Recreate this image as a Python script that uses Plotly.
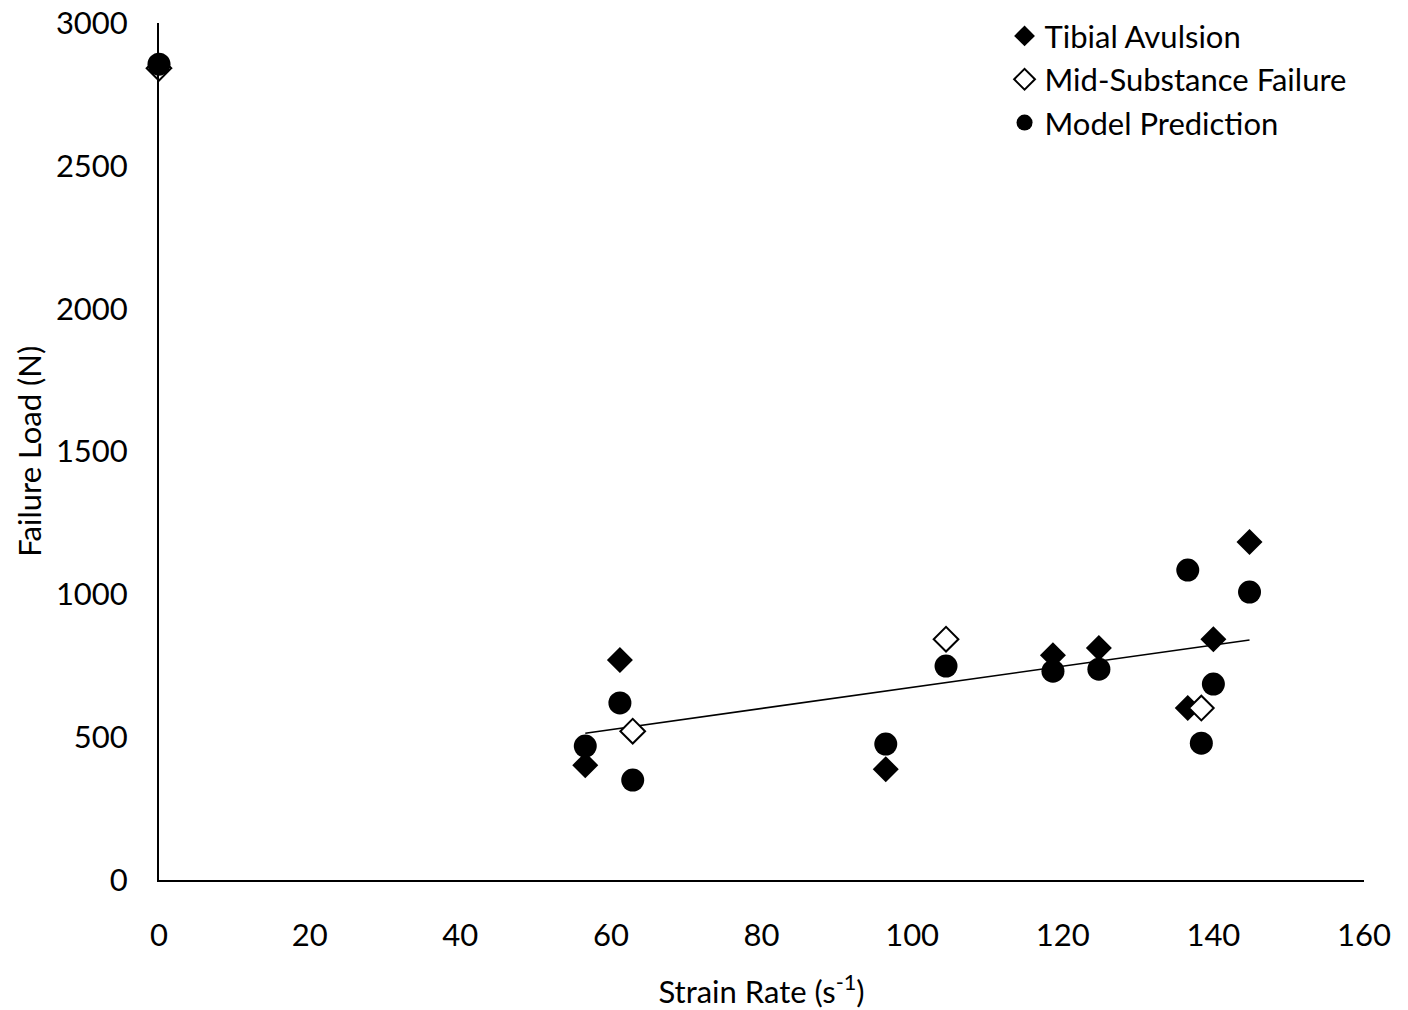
import plotly.graph_objects as go

# Tibial Avulsion (filled diamonds)
tibial_x = [56.6, 61.2, 96.5, 118.7, 124.8, 136.6, 140.0, 144.8]
tibial_y = [402, 770, 388, 787, 812, 602, 843, 1183]

# Mid-Substance Failure (open diamonds)
mid_x = [0, 62.9, 104.5, 138.4]
mid_y = [2842, 521, 843, 602]

# Model Prediction (filled circles)
model_x = [0, 56.6, 61.2, 62.9, 96.5, 104.5, 118.7, 124.8, 136.6, 138.4, 140.0, 144.8]
model_y = [2856, 469, 620, 350, 476, 749, 731, 738, 1085, 479, 686, 1008]

# Linear trend line endpoints
trend_x = [56.6, 144.8]
trend_y = [514, 840]

x_ticks = [0, 20, 40, 60, 80, 100, 120, 140, 160]
y_ticks = [0, 500, 1000, 1500, 2000, 2500, 3000]

FONT = "Lato"
FS = 31

fig = go.Figure()
fig.add_trace(go.Scatter(x=trend_x, y=trend_y, mode="lines",
                         line=dict(color="black", width=1.6),
                         showlegend=False, hoverinfo="skip", cliponaxis=False))
fig.add_trace(go.Scatter(x=tibial_x, y=tibial_y, mode="markers", name="Tibial Avulsion",
                         marker=dict(symbol="diamond", size=20, color="black",
                                     line=dict(width=0)), cliponaxis=False))
fig.add_trace(go.Scatter(x=mid_x, y=mid_y, mode="markers", name="Mid-Substance Failure",
                         marker=dict(symbol="diamond", size=19, color="white",
                                     line=dict(width=2, color="black")), cliponaxis=False))
fig.add_trace(go.Scatter(x=model_x, y=model_y, mode="markers", name="Model Prediction",
                         marker=dict(symbol="circle", size=23, color="black",
                                     line=dict(width=0)), cliponaxis=False))

fig.update_layout(
    width=1408, height=1010,
    margin=dict(l=159, r=44, t=23, b=130, autoexpand=False),
    paper_bgcolor="white", plot_bgcolor="white",
    font=dict(family=FONT, size=FS, color="black"),
    showlegend=True,
    legend=dict(x=0.7017, y=1.016, xanchor="left", yanchor="top",
                bgcolor="rgba(0,0,0,0)", font=dict(size=FS, family=FONT),
                itemsizing="trace", tracegroupgap=0),
    xaxis=dict(range=[0, 160], tickvals=x_ticks, showgrid=False, zeroline=False,
               showline=True, linecolor="black", linewidth=2, ticks="",
               automargin=False, ticklabelstandoff=27, ticklabeloverflow="allow",
               tickfont=dict(size=FS),
               title=dict(text="Strain Rate (s<sup>-1</sup>)", font=dict(size=FS), standoff=36)),
    yaxis=dict(range=[0, 3000], tickvals=y_ticks, showgrid=False, zeroline=False,
               showline=True, linecolor="black", linewidth=2, ticks="",
               automargin=False, ticklabelstandoff=23, ticklabeloverflow="allow",
               tickfont=dict(size=FS)),
    annotations=[dict(text="Failure Load (N)", textangle=-90, showarrow=False,
                      xref="paper", yref="paper", x=-0.1085, y=0.5,
                      xanchor="center", yanchor="middle",
                      font=dict(size=FS, family=FONT, color="black"))],
)

fig.write_html("out.html",
               config={"displayModeBar": False},
               post_script="document.body.style.margin='0px';document.body.style.overflow='hidden';")
